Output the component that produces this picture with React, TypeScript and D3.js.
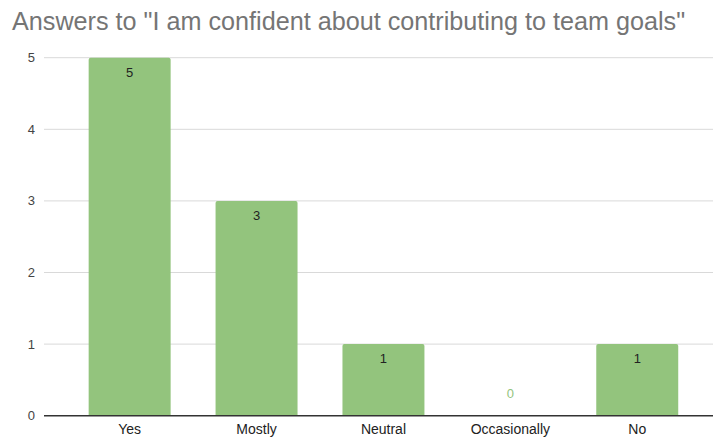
import React from "react";
import * as d3 from "d3";

const categories = ["Yes", "Mostly", "Neutral", "Occasionally", "No"];
const values = [5, 3, 1, 0, 1];
const yTicks = [0, 1, 2, 3, 4, 5];
const title = 'Answers to "I am confident about contributing to team goals"';

const W = 713;
const H = 439;
const FONT = "Arial, 'Liberation Sans', sans-serif";

export default function App() {
  const x = d3
    .scaleBand<string>()
    .domain(categories)
    .range([66.2, 700.7])
    .paddingInner(0.354)
    .paddingOuter(0.177);
  const y = d3.scaleLinear().domain([0, 5]).range([415.7, 57.7]);
  const bw = x.bandwidth();

  return (
    <svg
      width={W}
      height={H}
      style={{ position: "absolute", left: 0, top: 0, background: "#fff" }}
      fontFamily={FONT}
    >
      <text x={12} y={29.5} fontSize={25.2} fill="#757575">
        {title}
      </text>
      {yTicks.map((t) => (
        <g key={t}>
          {t > 0 && (
            <line x1={44} x2={W} y1={y(t)} y2={y(t)} stroke="#d9d9d9" strokeWidth={1} />
          )}
          <text x={35} y={y(t) + 4.5} fontSize={13} fill="#444" textAnchor="end">
            {t}
          </text>
        </g>
      ))}
      {categories.map((c, i) => {
        const v = values[i];
        const x0 = x(c)!;
        const top = y(v);
        const h = y(0) - top;
        const r = Math.min(2, h / 2);
        const path =
          h > 0
            ? `M${x0},${y(0)} L${x0},${top + r} Q${x0},${top} ${x0 + r},${top} L${x0 + bw - r},${top} Q${x0 + bw},${top} ${x0 + bw},${top + r} L${x0 + bw},${y(0)} Z`
            : "";
        return (
          <g key={c}>
            {h > 0 && <path d={path} fill="#93c47d" />}
            {h > 0 ? (
              <text x={x0 + bw / 2} y={top + 19} fontSize={13} fill="#222" textAnchor="middle">
                {v}
              </text>
            ) : (
              <text x={x0 + bw / 2} y={y(0) - 18} fontSize={13} fill="#93c47d" textAnchor="middle">
                {v}
              </text>
            )}
            <text x={x0 + bw / 2} y={434} fontSize={14} fill="#222" textAnchor="middle">
              {c}
            </text>
          </g>
        );
      })}
      <line x1={44} x2={W} y1={y(0)} y2={y(0)} stroke="#333" strokeWidth={1.5} />
    </svg>
  );
}
